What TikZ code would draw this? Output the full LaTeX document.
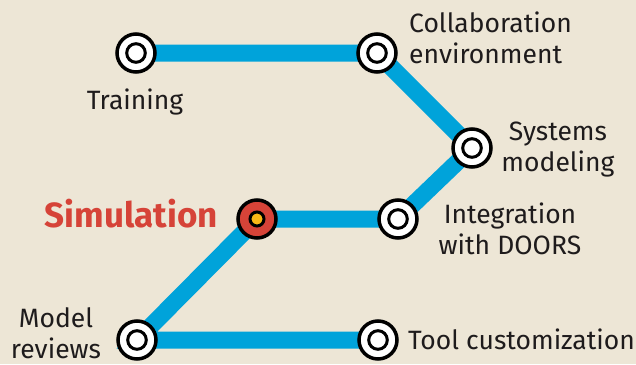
\documentclass[tikz,border=0pt]{standalone}
\usepackage{fontspec}
\setmainfont{Fira Sans}
\usetikzlibrary{positioning}
\definecolor{paper}{RGB}{237,230,214}
\definecolor{metroblue}{RGB}{0,163,218}
\definecolor{simred}{RGB}{214,67,56}
\definecolor{simyellow}{RGB}{250,183,22}
\definecolor{inkgray}{RGB}{30,27,28}
\pgfdeclarelayer{paperlayer}
\pgfdeclarelayer{linelayer}
\pgfsetlayers{paperlayer,linelayer,main}
\tikzstyle{stop}=
[
	circle
	, minimum size=38pt
	, inner sep=0pt
	, line width=3.5pt
	, draw=black
	, fill=white
	, path picture={\draw[line width=3pt] (path picture bounding box.center) circle (9.3pt);}
]
\tikzstyle{hub}=
[
	circle
	, minimum size=38pt
	, inner sep=0pt
	, line width=3.5pt
	, draw=black
	, fill=simred
	, path picture={\draw[line width=3pt, fill=simyellow] (path picture bounding box.center) circle (7pt);}
]
\tikzstyle{track} = [line width=17pt, draw=metroblue]
\tikzstyle{stoplabel} = [inner sep=0pt, text=inkgray, font=\fontsize{26.5}{31}\selectfont]

\begin{document}
\begin{tikzpicture}[x=1pt, y=-1pt]

\begin{pgfonlayer}{paperlayer}
\fill[paper] (0,0) rectangle (636,364);
\end{pgfonlayer}
\useasboundingbox (0,0) rectangle (636,364);

\node(training)[stop] at (136,53) {};
\node(collab)[stop] at (377,53) {};
\node(systems)[stop] at (472,148) {};
\node(doors)[stop] at (398,219) {};
\node(sim)[hub] at (257,219) {};
\node(review)[stop] at (137,340) {};
\node(tool)[stop] at (378,340) {};

\begin{pgfonlayer}{linelayer}
\draw[track](training.center)--(collab.center)--(systems.center)--(doors.center)
	--(sim.center)--(review.center)--(tool.center);
\end{pgfonlayer}

\node(ltraining)[stoplabel, anchor=base] at (135,109) {Training};
\node(lcollab)[stoplabel, align=left, anchor=north west] at (409,12) {Collaboration\\environment};
\node(lsystems)[stoplabel, align=center, anchor=north] at (558,122) {Systems\\modeling};
\node(ldoors)[stoplabel, align=center, anchor=north] at (510,203) {Integration\\with DOORS};
\node(lsim)[stoplabel, anchor=base east, text=simred, font=\fontsize{35}{40}\selectfont\bfseries] at (218,227) {Simulation};
\node(lreview)[stoplabel, align=center, anchor=north] at (56,307) {Model\\reviews};
\node(ltool)[stoplabel, anchor=base west] at (408,349) {Tool customization};

\end{tikzpicture}
\end{document}
